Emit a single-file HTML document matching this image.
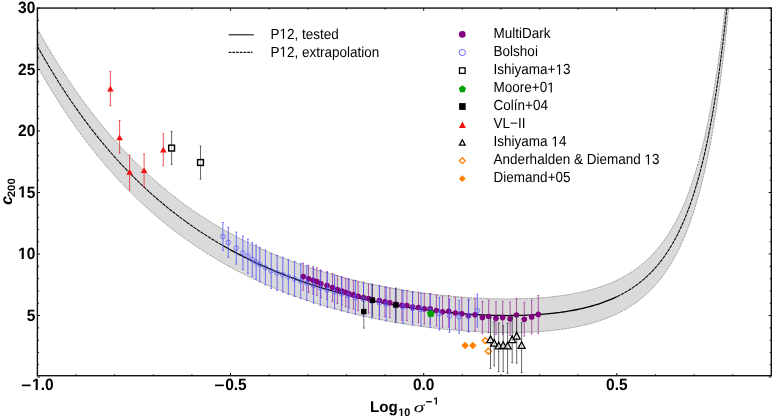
<!DOCTYPE html>
<html><head><meta charset="utf-8"><title>c200 vs Log10 sigma^-1</title>
<style>
html,body{margin:0;padding:0;background:#fff;}
body{width:772px;height:417px;overflow:hidden;font-family:"Liberation Sans",sans-serif;}
svg{display:block;will-change:transform;text-rendering:geometricPrecision;}
</style></head><body>
<svg width="772" height="417" viewBox="0 0 772 417">
<defs><clipPath id="cp"><rect x="37.4" y="8.1" width="734.9" height="367.6"/></clipPath></defs>
<rect width="772" height="417" fill="#fff"/>
<g clip-path="url(#cp)">
<path d="M37.40 28.96 L39.23 32.25 L41.07 35.50 L42.90 38.71 L44.74 41.89 L46.57 45.03 L48.41 48.14 L50.24 51.22 L52.08 54.26 L53.91 57.26 L55.75 60.24 L57.58 63.18 L59.42 66.09 L61.25 68.96 L63.09 71.81 L64.92 74.62 L66.76 77.40 L68.59 80.15 L70.43 82.87 L72.26 85.56 L74.10 88.22 L75.93 90.86 L77.77 93.46 L79.60 96.03 L81.44 98.58 L83.27 101.09 L85.11 103.58 L86.94 106.04 L88.78 108.48 L90.61 110.89 L92.45 113.27 L94.28 115.62 L96.12 117.95 L97.95 120.25 L99.79 122.53 L101.62 124.78 L103.46 127.01 L105.29 129.21 L107.13 131.39 L108.96 133.54 L110.80 135.68 L112.63 137.78 L114.47 139.87 L116.30 141.93 L118.14 143.96 L119.97 145.98 L121.81 147.97 L123.64 149.94 L125.48 151.89 L127.31 153.82 L129.15 155.73 L130.98 157.61 L132.82 159.48 L134.65 161.32 L136.49 163.15 L138.32 164.95 L140.16 166.73 L141.99 168.50 L143.83 170.24 L145.66 171.97 L147.50 173.67 L149.33 175.36 L151.17 177.03 L153.00 178.68 L154.84 180.31 L156.67 181.92 L158.51 183.52 L160.34 185.10 L162.17 186.66 L164.01 188.20 L165.84 189.73 L167.68 191.24 L169.51 192.73 L171.35 194.21 L173.18 195.67 L175.02 197.11 L176.85 198.54 L178.69 199.95 L180.52 201.35 L182.36 202.73 L184.19 204.10 L186.03 205.45 L187.86 206.78 L189.70 208.10 L191.53 209.41 L193.37 210.68 L195.20 211.94 L197.04 213.18 L198.87 214.41 L200.71 215.62 L202.54 216.82 L204.38 218.01 L206.21 219.18 L208.05 220.34 L209.88 221.49 L211.72 222.62 L213.55 223.74 L215.39 224.85 L217.22 225.94 L219.06 227.03 L220.89 228.10 L222.73 229.16 L224.56 230.20 L226.40 231.24 L228.23 232.26 L230.07 233.27 L231.90 234.27 L233.74 235.26 L235.57 236.24 L237.41 237.20 L239.24 238.16 L241.08 239.10 L242.91 240.03 L244.75 240.95 L246.58 241.87 L248.42 242.77 L250.25 243.66 L252.09 244.54 L253.92 245.41 L255.76 246.27 L257.59 247.12 L259.43 247.96 L261.26 248.79 L263.10 249.61 L264.93 250.43 L266.77 251.23 L268.60 252.02 L270.44 252.81 L272.27 253.58 L274.11 254.35 L275.94 255.10 L277.78 255.85 L279.61 256.59 L281.45 257.32 L283.28 258.04 L285.11 258.76 L286.95 259.46 L288.78 260.16 L290.62 260.85 L292.45 261.53 L294.29 262.20 L296.12 262.86 L297.96 263.52 L299.79 264.17 L301.63 264.81 L303.46 265.44 L305.30 266.07 L307.13 266.69 L308.97 267.30 L310.80 267.90 L312.64 268.50 L314.47 269.09 L316.31 269.67 L318.14 270.24 L319.98 270.81 L321.81 271.37 L323.65 271.92 L325.48 272.47 L327.32 273.01 L329.15 273.54 L330.99 274.07 L332.82 274.59 L334.66 275.10 L336.49 275.61 L338.33 276.11 L340.16 276.60 L342.00 277.09 L343.83 277.57 L345.67 278.04 L347.50 278.51 L349.34 278.97 L351.17 279.43 L353.01 279.88 L354.84 280.33 L356.68 280.76 L358.51 281.20 L360.35 281.62 L362.18 282.05 L364.02 282.46 L365.85 282.87 L367.69 283.27 L369.52 283.67 L371.36 284.07 L373.19 284.45 L375.03 284.84 L376.86 285.21 L378.70 285.58 L380.53 285.95 L382.37 286.31 L384.20 286.66 L386.04 287.01 L387.87 287.36 L389.71 287.70 L391.54 288.03 L393.38 288.36 L395.21 288.68 L397.05 289.00 L398.88 289.31 L400.72 289.62 L402.55 289.92 L404.38 290.22 L406.22 290.51 L408.05 290.80 L409.89 291.09 L411.72 291.36 L413.56 291.64 L415.39 291.90 L417.23 292.17 L419.06 292.43 L420.90 292.68 L422.73 292.93 L424.57 293.17 L426.40 293.41 L428.24 293.64 L430.07 293.87 L431.91 294.10 L433.74 294.32 L435.58 294.53 L437.41 294.74 L439.25 294.95 L441.08 295.15 L442.92 295.34 L444.75 295.53 L446.59 295.72 L448.42 295.90 L450.26 296.07 L452.09 296.24 L453.93 296.41 L455.76 296.57 L457.60 296.72 L459.43 296.87 L461.27 297.02 L463.10 297.16 L464.94 297.30 L466.77 297.43 L468.61 297.55 L470.44 297.67 L472.28 297.79 L474.11 297.90 L475.95 298.00 L477.78 298.10 L479.62 298.19 L481.45 298.28 L483.29 298.37 L485.12 298.44 L486.96 298.51 L488.79 298.58 L490.63 298.64 L492.46 298.70 L494.30 298.75 L496.13 298.79 L497.97 298.83 L499.80 298.86 L501.64 298.88 L503.47 298.90 L505.31 298.92 L507.14 298.92 L508.98 298.92 L510.81 298.92 L512.65 298.90 L514.48 298.88 L516.32 298.86 L518.15 298.82 L519.99 298.78 L521.82 298.74 L523.66 298.68 L525.49 298.62 L527.32 298.55 L529.16 298.47 L530.99 298.38 L532.83 298.29 L534.66 298.19 L536.50 298.08 L538.33 297.96 L540.17 297.83 L542.00 297.69 L543.84 297.54 L545.67 297.39 L547.51 297.22 L549.34 297.05 L551.18 296.86 L553.01 296.67 L554.85 296.46 L556.68 296.24 L558.52 296.01 L560.35 295.77 L562.19 295.52 L564.02 295.25 L565.86 294.98 L567.69 294.68 L569.53 294.38 L571.36 294.06 L573.20 293.73 L575.03 293.38 L576.87 293.02 L578.70 292.65 L580.54 292.25 L582.37 291.84 L584.21 291.42 L586.04 290.97 L587.88 290.51 L589.71 290.03 L591.55 289.53 L593.38 289.01 L595.22 288.46 L597.05 287.90 L598.89 287.31 L600.72 286.71 L602.56 286.07 L604.39 285.41 L606.23 284.73 L608.06 284.01 L609.90 283.27 L611.73 282.50 L613.57 281.70 L615.40 280.87 L617.24 280.01 L619.07 279.11 L620.91 278.17 L622.74 277.20 L624.58 276.19 L626.41 275.14 L628.25 274.04 L630.08 272.90 L631.92 271.72 L633.75 270.48 L635.59 269.20 L637.42 267.86 L639.26 266.47 L641.09 265.01 L642.93 263.50 L644.76 261.92 L646.60 260.27 L648.43 258.56 L650.26 256.77 L652.10 254.90 L653.93 252.94 L655.77 250.91 L657.60 248.77 L659.44 246.55 L661.27 244.22 L663.11 241.78 L664.94 239.23 L666.78 236.56 L668.61 233.77 L670.45 230.84 L672.28 227.76 L674.12 224.54 L675.95 221.16 L677.79 217.61 L679.62 213.87 L681.46 209.95 L683.29 205.83 L685.13 201.48 L686.96 196.91 L688.80 192.09 L690.63 187.01 L692.47 181.65 L694.30 175.99 L696.14 170.01 L697.97 163.69 L699.81 157.01 L701.64 149.93 L703.48 142.43 L705.31 134.48 L707.15 126.04 L708.98 117.07 L710.82 107.55 L712.65 97.41 L714.49 86.62 L716.32 75.12 L718.16 62.85 L719.99 49.76 L721.83 35.76 L723.66 20.79 L725.50 4.76 L727.33 -12.43 L729.17 -30.86 L731.00 -50.67 L732.84 -71.97 L734.67 -94.89 L736.51 -119.60 L738.34 -146.27 L740.18 -175.07 L742.01 -206.23 L743.85 -239.97 L745.68 -276.56 L747.52 -316.28 L749.35 -359.48 L751.19 -406.51 L753.02 -457.79 L754.86 -513.78 L756.69 -574.99 L758.53 -642.04 L760.36 -715.57 L762.20 -796.34 L764.03 -885.21 L765.87 -983.15 L767.70 -1091.27 L769.54 -1210.82 L771.37 -1343.26 L771.37 -1309.56 L769.54 -1177.12 L767.70 -1057.56 L765.87 -949.45 L764.03 -851.51 L762.20 -762.64 L760.36 -681.86 L758.53 -608.33 L756.69 -541.29 L754.86 -480.07 L753.02 -424.09 L751.19 -372.81 L749.35 -325.78 L747.52 -282.58 L745.68 -242.85 L743.85 -206.26 L742.01 -172.52 L740.18 -141.37 L738.34 -112.56 L736.51 -85.90 L734.67 -61.19 L732.84 -38.26 L731.00 -16.97 L729.17 2.84 L727.33 21.28 L725.50 38.46 L723.66 54.49 L721.83 69.46 L719.99 83.46 L718.16 96.56 L716.32 108.82 L714.49 120.32 L712.65 131.11 L710.82 141.25 L708.98 150.78 L707.15 159.74 L705.31 168.18 L703.48 176.13 L701.64 183.63 L699.81 190.71 L697.97 197.40 L696.14 203.72 L694.30 209.69 L692.47 215.35 L690.63 220.71 L688.80 225.79 L686.96 230.61 L685.13 235.18 L683.29 239.53 L681.46 243.65 L679.62 247.58 L677.79 251.31 L675.95 254.86 L674.12 258.24 L672.28 261.47 L670.45 264.54 L668.61 267.47 L666.78 270.27 L664.94 272.93 L663.11 275.48 L661.27 277.92 L659.44 280.25 L657.60 282.48 L655.77 284.61 L653.93 286.65 L652.10 288.60 L650.26 290.47 L648.43 292.26 L646.60 293.98 L644.76 295.62 L642.93 297.20 L641.09 298.71 L639.26 300.17 L637.42 301.56 L635.59 302.90 L633.75 304.19 L631.92 305.42 L630.08 306.61 L628.25 307.74 L626.41 308.84 L624.58 309.89 L622.74 310.90 L620.91 311.88 L619.07 312.81 L617.24 313.71 L615.40 314.58 L613.57 315.41 L611.73 316.21 L609.90 316.98 L608.06 317.72 L606.23 318.43 L604.39 319.11 L602.56 319.77 L600.72 320.41 L598.89 321.02 L597.05 321.60 L595.22 322.17 L593.38 322.71 L591.55 323.23 L589.71 323.73 L587.88 324.21 L586.04 324.67 L584.21 325.12 L582.37 325.55 L580.54 325.96 L578.70 326.35 L576.87 326.73 L575.03 327.09 L573.20 327.43 L571.36 327.76 L569.53 328.08 L567.69 328.39 L565.86 328.68 L564.02 328.95 L562.19 329.22 L560.35 329.47 L558.52 329.71 L556.68 329.94 L554.85 330.16 L553.01 330.37 L551.18 330.56 L549.34 330.75 L547.51 330.93 L545.67 331.09 L543.84 331.25 L542.00 331.39 L540.17 331.53 L538.33 331.66 L536.50 331.78 L534.66 331.89 L532.83 331.99 L530.99 332.09 L529.16 332.17 L527.32 332.25 L525.49 332.32 L523.66 332.38 L521.82 332.44 L519.99 332.49 L518.15 332.53 L516.32 332.56 L514.48 332.59 L512.65 332.61 L510.81 332.62 L508.98 332.63 L507.14 332.62 L505.31 332.62 L503.47 332.61 L501.64 332.59 L499.80 332.56 L497.97 332.53 L496.13 332.49 L494.30 332.45 L492.46 332.40 L490.63 332.34 L488.79 332.28 L486.96 332.22 L485.12 332.14 L483.29 332.07 L481.45 331.98 L479.62 331.90 L477.78 331.80 L475.95 331.70 L474.11 331.60 L472.28 331.49 L470.44 331.37 L468.61 331.25 L466.77 331.13 L464.94 331.00 L463.10 330.86 L461.27 330.72 L459.43 330.58 L457.60 330.43 L455.76 330.27 L453.93 330.11 L452.09 329.94 L450.26 329.77 L448.42 329.60 L446.59 329.42 L444.75 329.23 L442.92 329.04 L441.08 328.85 L439.25 328.65 L437.41 328.44 L435.58 328.23 L433.74 328.02 L431.91 327.80 L430.07 327.58 L428.24 327.35 L426.40 327.11 L424.57 326.87 L422.73 326.63 L420.90 326.38 L419.06 326.13 L417.23 325.87 L415.39 325.61 L413.56 325.34 L411.72 325.07 L409.89 324.79 L408.05 324.50 L406.22 324.22 L404.38 323.92 L402.55 323.63 L400.72 323.32 L398.88 323.01 L397.05 322.70 L395.21 322.38 L393.38 322.06 L391.54 321.73 L389.71 321.40 L387.87 321.06 L386.04 320.71 L384.20 320.36 L382.37 320.01 L380.53 319.65 L378.70 319.28 L376.86 318.91 L375.03 318.54 L373.19 318.16 L371.36 317.77 L369.52 317.38 L367.69 316.98 L365.85 316.57 L364.02 316.16 L362.18 315.75 L360.35 315.33 L358.51 314.90 L356.68 314.47 L354.84 314.03 L353.01 313.58 L351.17 313.13 L349.34 312.68 L347.50 312.21 L345.67 311.75 L343.83 311.27 L342.00 310.79 L340.16 310.30 L338.33 309.81 L336.49 309.31 L334.66 308.80 L332.82 308.29 L330.99 307.77 L329.15 307.24 L327.32 306.71 L325.48 306.17 L323.65 305.62 L321.81 305.07 L319.98 304.51 L318.14 303.94 L316.31 303.37 L314.47 302.79 L312.64 302.20 L310.80 301.60 L308.97 301.00 L307.13 300.39 L305.30 299.77 L303.46 299.15 L301.63 298.51 L299.79 297.87 L297.96 297.22 L296.12 296.57 L294.29 295.90 L292.45 295.23 L290.62 294.55 L288.78 293.86 L286.95 293.16 L285.11 292.46 L283.28 291.75 L281.45 291.02 L279.61 290.29 L277.78 289.55 L275.94 288.81 L274.11 288.05 L272.27 287.28 L270.44 286.51 L268.60 285.72 L266.77 284.93 L264.93 284.13 L263.10 283.32 L261.26 282.50 L259.43 281.66 L257.59 280.82 L255.76 279.97 L253.92 279.11 L252.09 278.24 L250.25 277.36 L248.42 276.47 L246.58 275.57 L244.75 274.66 L242.91 273.73 L241.08 272.80 L239.24 271.86 L237.41 270.90 L235.57 269.94 L233.74 268.96 L231.90 267.97 L230.07 266.97 L228.23 265.96 L226.40 264.94 L224.56 263.90 L222.73 262.86 L220.89 261.80 L219.06 260.73 L217.22 259.65 L215.39 258.55 L213.55 257.44 L211.72 256.32 L209.88 255.19 L208.05 254.04 L206.21 252.88 L204.38 251.71 L202.54 250.52 L200.71 249.32 L198.87 248.11 L197.04 246.88 L195.20 245.64 L193.37 244.39 L191.53 243.12 L189.70 241.86 L187.86 240.58 L186.03 239.29 L184.19 237.98 L182.36 236.66 L180.52 235.32 L178.69 233.97 L176.85 232.60 L175.02 231.22 L173.18 229.82 L171.35 228.40 L169.51 226.97 L167.68 225.52 L165.84 224.06 L164.01 222.57 L162.17 221.07 L160.34 219.56 L158.51 218.02 L156.67 216.47 L154.84 214.90 L153.00 213.31 L151.17 211.71 L149.33 210.08 L147.50 208.44 L145.66 206.78 L143.83 205.10 L141.99 203.40 L140.16 201.68 L138.32 199.94 L136.49 198.18 L134.65 196.40 L132.82 194.60 L130.98 192.78 L129.15 190.94 L127.31 189.07 L125.48 187.19 L123.64 185.28 L121.81 183.36 L119.97 181.41 L118.14 179.44 L116.30 177.44 L114.47 175.43 L112.63 173.39 L110.80 171.32 L108.96 169.24 L107.13 167.13 L105.29 164.99 L103.46 162.83 L101.62 160.65 L99.79 158.44 L97.95 156.21 L96.12 153.95 L94.28 151.67 L92.45 149.35 L90.61 147.02 L88.78 144.65 L86.94 142.26 L85.11 139.85 L83.27 137.40 L81.44 134.93 L79.60 132.43 L77.77 129.90 L75.93 127.34 L74.10 124.75 L72.26 122.14 L70.43 119.49 L68.59 116.81 L66.76 114.11 L64.92 111.37 L63.09 108.60 L61.25 105.80 L59.42 102.97 L57.58 100.10 L55.75 97.21 L53.91 94.28 L52.08 91.31 L50.24 88.32 L48.41 85.29 L46.57 82.22 L44.74 79.12 L42.90 75.99 L41.07 72.82 L39.23 69.61 L37.40 66.37 Z" fill="#dadada" stroke="none"/>
<path d="M37.40 28.96 L39.23 32.25 L41.07 35.50 L42.90 38.71 L44.74 41.89 L46.57 45.03 L48.41 48.14 L50.24 51.22 L52.08 54.26 L53.91 57.26 L55.75 60.24 L57.58 63.18 L59.42 66.09 L61.25 68.96 L63.09 71.81 L64.92 74.62 L66.76 77.40 L68.59 80.15 L70.43 82.87 L72.26 85.56 L74.10 88.22 L75.93 90.86 L77.77 93.46 L79.60 96.03 L81.44 98.58 L83.27 101.09 L85.11 103.58 L86.94 106.04 L88.78 108.48 L90.61 110.89 L92.45 113.27 L94.28 115.62 L96.12 117.95 L97.95 120.25 L99.79 122.53 L101.62 124.78 L103.46 127.01 L105.29 129.21 L107.13 131.39 L108.96 133.54 L110.80 135.68 L112.63 137.78 L114.47 139.87 L116.30 141.93 L118.14 143.96 L119.97 145.98 L121.81 147.97 L123.64 149.94 L125.48 151.89 L127.31 153.82 L129.15 155.73 L130.98 157.61 L132.82 159.48 L134.65 161.32 L136.49 163.15 L138.32 164.95 L140.16 166.73 L141.99 168.50 L143.83 170.24 L145.66 171.97 L147.50 173.67 L149.33 175.36 L151.17 177.03 L153.00 178.68 L154.84 180.31 L156.67 181.92 L158.51 183.52 L160.34 185.10 L162.17 186.66 L164.01 188.20 L165.84 189.73 L167.68 191.24 L169.51 192.73 L171.35 194.21 L173.18 195.67 L175.02 197.11 L176.85 198.54 L178.69 199.95 L180.52 201.35 L182.36 202.73 L184.19 204.10 L186.03 205.45 L187.86 206.78 L189.70 208.10 L191.53 209.41 L193.37 210.68 L195.20 211.94 L197.04 213.18 L198.87 214.41 L200.71 215.62 L202.54 216.82 L204.38 218.01 L206.21 219.18 L208.05 220.34 L209.88 221.49 L211.72 222.62 L213.55 223.74 L215.39 224.85 L217.22 225.94 L219.06 227.03 L220.89 228.10 L222.73 229.16 L224.56 230.20 L226.40 231.24 L228.23 232.26 L230.07 233.27 L231.90 234.27 L233.74 235.26 L235.57 236.24 L237.41 237.20 L239.24 238.16 L241.08 239.10 L242.91 240.03 L244.75 240.95 L246.58 241.87 L248.42 242.77 L250.25 243.66 L252.09 244.54 L253.92 245.41 L255.76 246.27 L257.59 247.12 L259.43 247.96 L261.26 248.79 L263.10 249.61 L264.93 250.43 L266.77 251.23 L268.60 252.02 L270.44 252.81 L272.27 253.58 L274.11 254.35 L275.94 255.10 L277.78 255.85 L279.61 256.59 L281.45 257.32 L283.28 258.04 L285.11 258.76 L286.95 259.46 L288.78 260.16 L290.62 260.85 L292.45 261.53 L294.29 262.20 L296.12 262.86 L297.96 263.52 L299.79 264.17 L301.63 264.81 L303.46 265.44 L305.30 266.07 L307.13 266.69 L308.97 267.30 L310.80 267.90 L312.64 268.50 L314.47 269.09 L316.31 269.67 L318.14 270.24 L319.98 270.81 L321.81 271.37 L323.65 271.92 L325.48 272.47 L327.32 273.01 L329.15 273.54 L330.99 274.07 L332.82 274.59 L334.66 275.10 L336.49 275.61 L338.33 276.11 L340.16 276.60 L342.00 277.09 L343.83 277.57 L345.67 278.04 L347.50 278.51 L349.34 278.97 L351.17 279.43 L353.01 279.88 L354.84 280.33 L356.68 280.76 L358.51 281.20 L360.35 281.62 L362.18 282.05 L364.02 282.46 L365.85 282.87 L367.69 283.27 L369.52 283.67 L371.36 284.07 L373.19 284.45 L375.03 284.84 L376.86 285.21 L378.70 285.58 L380.53 285.95 L382.37 286.31 L384.20 286.66 L386.04 287.01 L387.87 287.36 L389.71 287.70 L391.54 288.03 L393.38 288.36 L395.21 288.68 L397.05 289.00 L398.88 289.31 L400.72 289.62 L402.55 289.92 L404.38 290.22 L406.22 290.51 L408.05 290.80 L409.89 291.09 L411.72 291.36 L413.56 291.64 L415.39 291.90 L417.23 292.17 L419.06 292.43 L420.90 292.68 L422.73 292.93 L424.57 293.17 L426.40 293.41 L428.24 293.64 L430.07 293.87 L431.91 294.10 L433.74 294.32 L435.58 294.53 L437.41 294.74 L439.25 294.95 L441.08 295.15 L442.92 295.34 L444.75 295.53 L446.59 295.72 L448.42 295.90 L450.26 296.07 L452.09 296.24 L453.93 296.41 L455.76 296.57 L457.60 296.72 L459.43 296.87 L461.27 297.02 L463.10 297.16 L464.94 297.30 L466.77 297.43 L468.61 297.55 L470.44 297.67 L472.28 297.79 L474.11 297.90 L475.95 298.00 L477.78 298.10 L479.62 298.19 L481.45 298.28 L483.29 298.37 L485.12 298.44 L486.96 298.51 L488.79 298.58 L490.63 298.64 L492.46 298.70 L494.30 298.75 L496.13 298.79 L497.97 298.83 L499.80 298.86 L501.64 298.88 L503.47 298.90 L505.31 298.92 L507.14 298.92 L508.98 298.92 L510.81 298.92 L512.65 298.90 L514.48 298.88 L516.32 298.86 L518.15 298.82 L519.99 298.78 L521.82 298.74 L523.66 298.68 L525.49 298.62 L527.32 298.55 L529.16 298.47 L530.99 298.38 L532.83 298.29 L534.66 298.19 L536.50 298.08 L538.33 297.96 L540.17 297.83 L542.00 297.69 L543.84 297.54 L545.67 297.39 L547.51 297.22 L549.34 297.05 L551.18 296.86 L553.01 296.67 L554.85 296.46 L556.68 296.24 L558.52 296.01 L560.35 295.77 L562.19 295.52 L564.02 295.25 L565.86 294.98 L567.69 294.68 L569.53 294.38 L571.36 294.06 L573.20 293.73 L575.03 293.38 L576.87 293.02 L578.70 292.65 L580.54 292.25 L582.37 291.84 L584.21 291.42 L586.04 290.97 L587.88 290.51 L589.71 290.03 L591.55 289.53 L593.38 289.01 L595.22 288.46 L597.05 287.90 L598.89 287.31 L600.72 286.71 L602.56 286.07 L604.39 285.41 L606.23 284.73 L608.06 284.01 L609.90 283.27 L611.73 282.50 L613.57 281.70 L615.40 280.87 L617.24 280.01 L619.07 279.11 L620.91 278.17 L622.74 277.20 L624.58 276.19 L626.41 275.14 L628.25 274.04 L630.08 272.90 L631.92 271.72 L633.75 270.48 L635.59 269.20 L637.42 267.86 L639.26 266.47 L641.09 265.01 L642.93 263.50 L644.76 261.92 L646.60 260.27 L648.43 258.56 L650.26 256.77 L652.10 254.90 L653.93 252.94 L655.77 250.91 L657.60 248.77 L659.44 246.55 L661.27 244.22 L663.11 241.78 L664.94 239.23 L666.78 236.56 L668.61 233.77 L670.45 230.84 L672.28 227.76 L674.12 224.54 L675.95 221.16 L677.79 217.61 L679.62 213.87 L681.46 209.95 L683.29 205.83 L685.13 201.48 L686.96 196.91 L688.80 192.09 L690.63 187.01 L692.47 181.65 L694.30 175.99 L696.14 170.01 L697.97 163.69 L699.81 157.01 L701.64 149.93 L703.48 142.43 L705.31 134.48 L707.15 126.04 L708.98 117.07 L710.82 107.55 L712.65 97.41 L714.49 86.62 L716.32 75.12 L718.16 62.85 L719.99 49.76 L721.83 35.76 L723.66 20.79 L725.50 4.76 L727.33 -12.43 L729.17 -30.86 L731.00 -50.67 L732.84 -71.97 L734.67 -94.89 L736.51 -119.60 L738.34 -146.27 L740.18 -175.07 L742.01 -206.23 L743.85 -239.97 L745.68 -276.56 L747.52 -316.28 L749.35 -359.48 L751.19 -406.51 L753.02 -457.79 L754.86 -513.78 L756.69 -574.99 L758.53 -642.04 L760.36 -715.57 L762.20 -796.34 L764.03 -885.21 L765.87 -983.15 L767.70 -1091.27 L769.54 -1210.82 L771.37 -1343.26" fill="none" stroke="#777" stroke-width="0.6" stroke-dasharray="2.6 0.7"/>
<path d="M37.40 66.37 L39.23 69.61 L41.07 72.82 L42.90 75.99 L44.74 79.12 L46.57 82.22 L48.41 85.29 L50.24 88.32 L52.08 91.31 L53.91 94.28 L55.75 97.21 L57.58 100.10 L59.42 102.97 L61.25 105.80 L63.09 108.60 L64.92 111.37 L66.76 114.11 L68.59 116.81 L70.43 119.49 L72.26 122.14 L74.10 124.75 L75.93 127.34 L77.77 129.90 L79.60 132.43 L81.44 134.93 L83.27 137.40 L85.11 139.85 L86.94 142.26 L88.78 144.65 L90.61 147.02 L92.45 149.35 L94.28 151.67 L96.12 153.95 L97.95 156.21 L99.79 158.44 L101.62 160.65 L103.46 162.83 L105.29 164.99 L107.13 167.13 L108.96 169.24 L110.80 171.32 L112.63 173.39 L114.47 175.43 L116.30 177.44 L118.14 179.44 L119.97 181.41 L121.81 183.36 L123.64 185.28 L125.48 187.19 L127.31 189.07 L129.15 190.94 L130.98 192.78 L132.82 194.60 L134.65 196.40 L136.49 198.18 L138.32 199.94 L140.16 201.68 L141.99 203.40 L143.83 205.10 L145.66 206.78 L147.50 208.44 L149.33 210.08 L151.17 211.71 L153.00 213.31 L154.84 214.90 L156.67 216.47 L158.51 218.02 L160.34 219.56 L162.17 221.07 L164.01 222.57 L165.84 224.06 L167.68 225.52 L169.51 226.97 L171.35 228.40 L173.18 229.82 L175.02 231.22 L176.85 232.60 L178.69 233.97 L180.52 235.32 L182.36 236.66 L184.19 237.98 L186.03 239.29 L187.86 240.58 L189.70 241.86 L191.53 243.12 L193.37 244.39 L195.20 245.64 L197.04 246.88 L198.87 248.11 L200.71 249.32 L202.54 250.52 L204.38 251.71 L206.21 252.88 L208.05 254.04 L209.88 255.19 L211.72 256.32 L213.55 257.44 L215.39 258.55 L217.22 259.65 L219.06 260.73 L220.89 261.80 L222.73 262.86 L224.56 263.90 L226.40 264.94 L228.23 265.96 L230.07 266.97 L231.90 267.97 L233.74 268.96 L235.57 269.94 L237.41 270.90 L239.24 271.86 L241.08 272.80 L242.91 273.73 L244.75 274.66 L246.58 275.57 L248.42 276.47 L250.25 277.36 L252.09 278.24 L253.92 279.11 L255.76 279.97 L257.59 280.82 L259.43 281.66 L261.26 282.50 L263.10 283.32 L264.93 284.13 L266.77 284.93 L268.60 285.72 L270.44 286.51 L272.27 287.28 L274.11 288.05 L275.94 288.81 L277.78 289.55 L279.61 290.29 L281.45 291.02 L283.28 291.75 L285.11 292.46 L286.95 293.16 L288.78 293.86 L290.62 294.55 L292.45 295.23 L294.29 295.90 L296.12 296.57 L297.96 297.22 L299.79 297.87 L301.63 298.51 L303.46 299.15 L305.30 299.77 L307.13 300.39 L308.97 301.00 L310.80 301.60 L312.64 302.20 L314.47 302.79 L316.31 303.37 L318.14 303.94 L319.98 304.51 L321.81 305.07 L323.65 305.62 L325.48 306.17 L327.32 306.71 L329.15 307.24 L330.99 307.77 L332.82 308.29 L334.66 308.80 L336.49 309.31 L338.33 309.81 L340.16 310.30 L342.00 310.79 L343.83 311.27 L345.67 311.75 L347.50 312.21 L349.34 312.68 L351.17 313.13 L353.01 313.58 L354.84 314.03 L356.68 314.47 L358.51 314.90 L360.35 315.33 L362.18 315.75 L364.02 316.16 L365.85 316.57 L367.69 316.98 L369.52 317.38 L371.36 317.77 L373.19 318.16 L375.03 318.54 L376.86 318.91 L378.70 319.28 L380.53 319.65 L382.37 320.01 L384.20 320.36 L386.04 320.71 L387.87 321.06 L389.71 321.40 L391.54 321.73 L393.38 322.06 L395.21 322.38 L397.05 322.70 L398.88 323.01 L400.72 323.32 L402.55 323.63 L404.38 323.92 L406.22 324.22 L408.05 324.50 L409.89 324.79 L411.72 325.07 L413.56 325.34 L415.39 325.61 L417.23 325.87 L419.06 326.13 L420.90 326.38 L422.73 326.63 L424.57 326.87 L426.40 327.11 L428.24 327.35 L430.07 327.58 L431.91 327.80 L433.74 328.02 L435.58 328.23 L437.41 328.44 L439.25 328.65 L441.08 328.85 L442.92 329.04 L444.75 329.23 L446.59 329.42 L448.42 329.60 L450.26 329.77 L452.09 329.94 L453.93 330.11 L455.76 330.27 L457.60 330.43 L459.43 330.58 L461.27 330.72 L463.10 330.86 L464.94 331.00 L466.77 331.13 L468.61 331.25 L470.44 331.37 L472.28 331.49 L474.11 331.60 L475.95 331.70 L477.78 331.80 L479.62 331.90 L481.45 331.98 L483.29 332.07 L485.12 332.14 L486.96 332.22 L488.79 332.28 L490.63 332.34 L492.46 332.40 L494.30 332.45 L496.13 332.49 L497.97 332.53 L499.80 332.56 L501.64 332.59 L503.47 332.61 L505.31 332.62 L507.14 332.62 L508.98 332.63 L510.81 332.62 L512.65 332.61 L514.48 332.59 L516.32 332.56 L518.15 332.53 L519.99 332.49 L521.82 332.44 L523.66 332.38 L525.49 332.32 L527.32 332.25 L529.16 332.17 L530.99 332.09 L532.83 331.99 L534.66 331.89 L536.50 331.78 L538.33 331.66 L540.17 331.53 L542.00 331.39 L543.84 331.25 L545.67 331.09 L547.51 330.93 L549.34 330.75 L551.18 330.56 L553.01 330.37 L554.85 330.16 L556.68 329.94 L558.52 329.71 L560.35 329.47 L562.19 329.22 L564.02 328.95 L565.86 328.68 L567.69 328.39 L569.53 328.08 L571.36 327.76 L573.20 327.43 L575.03 327.09 L576.87 326.73 L578.70 326.35 L580.54 325.96 L582.37 325.55 L584.21 325.12 L586.04 324.67 L587.88 324.21 L589.71 323.73 L591.55 323.23 L593.38 322.71 L595.22 322.17 L597.05 321.60 L598.89 321.02 L600.72 320.41 L602.56 319.77 L604.39 319.11 L606.23 318.43 L608.06 317.72 L609.90 316.98 L611.73 316.21 L613.57 315.41 L615.40 314.58 L617.24 313.71 L619.07 312.81 L620.91 311.88 L622.74 310.90 L624.58 309.89 L626.41 308.84 L628.25 307.74 L630.08 306.61 L631.92 305.42 L633.75 304.19 L635.59 302.90 L637.42 301.56 L639.26 300.17 L641.09 298.71 L642.93 297.20 L644.76 295.62 L646.60 293.98 L648.43 292.26 L650.26 290.47 L652.10 288.60 L653.93 286.65 L655.77 284.61 L657.60 282.48 L659.44 280.25 L661.27 277.92 L663.11 275.48 L664.94 272.93 L666.78 270.27 L668.61 267.47 L670.45 264.54 L672.28 261.47 L674.12 258.24 L675.95 254.86 L677.79 251.31 L679.62 247.58 L681.46 243.65 L683.29 239.53 L685.13 235.18 L686.96 230.61 L688.80 225.79 L690.63 220.71 L692.47 215.35 L694.30 209.69 L696.14 203.72 L697.97 197.40 L699.81 190.71 L701.64 183.63 L703.48 176.13 L705.31 168.18 L707.15 159.74 L708.98 150.78 L710.82 141.25 L712.65 131.11 L714.49 120.32 L716.32 108.82 L718.16 96.56 L719.99 83.46 L721.83 69.46 L723.66 54.49 L725.50 38.46 L727.33 21.28 L729.17 2.84 L731.00 -16.97 L732.84 -38.26 L734.67 -61.19 L736.51 -85.90 L738.34 -112.56 L740.18 -141.37 L742.01 -172.52 L743.85 -206.26 L745.68 -242.85 L747.52 -282.58 L749.35 -325.78 L751.19 -372.81 L753.02 -424.09 L754.86 -480.07 L756.69 -541.29 L758.53 -608.33 L760.36 -681.86 L762.20 -762.64 L764.03 -851.51 L765.87 -949.45 L767.70 -1057.56 L769.54 -1177.12 L771.37 -1309.56" fill="none" stroke="#777" stroke-width="0.6" stroke-dasharray="2.6 0.7"/>
<path d="M37.40 46.34 L38.33 48.00 L39.25 49.66 L40.18 51.30 L41.11 52.93 L42.04 54.55 L42.96 56.17 L43.89 57.77 L44.82 59.37 L45.74 60.96 L46.67 62.53 L47.60 64.10 L48.53 65.66 L49.45 67.22 L50.38 68.76 L51.31 70.29 L52.23 71.82 L53.16 73.34 L54.09 74.84 L55.02 76.34 L55.94 77.83 L56.87 79.32 L57.80 80.79 L58.72 82.26 L59.65 83.72 L60.58 85.17 L61.51 86.61 L62.43 88.04 L63.36 89.47 L64.29 90.88 L65.21 92.29 L66.14 93.69 L67.07 95.09 L67.99 96.47 L68.92 97.85 L69.85 99.22 L70.78 100.58 L71.70 101.94 L72.63 103.28 L73.56 104.62 L74.48 105.96 L75.41 107.28 L76.34 108.60 L77.27 109.91 L78.19 111.21 L79.12 112.50 L80.05 113.79 L80.97 115.07 L81.90 116.34 L82.83 117.61 L83.76 118.87 L84.68 120.12 L85.61 121.36 L86.54 122.60 L87.46 123.83 L88.39 125.05 L89.32 126.27 L90.25 127.48 L91.17 128.68 L92.10 129.88 L93.03 131.07 L93.95 132.25 L94.88 133.42 L95.81 134.59 L96.74 135.76 L97.66 136.91 L98.59 138.06 L99.52 139.20 L100.44 140.34 L101.37 141.47 L102.30 142.59 L103.23 143.71 L104.15 144.82 L105.08 145.93 L106.01 147.02 L106.93 148.12 L107.86 149.20 L108.79 150.28 L109.72 151.36 L110.64 152.42 L111.57 153.49 L112.50 154.54 L113.42 155.59 L114.35 156.63 L115.28 157.67 L116.21 158.70 L117.13 159.73 L118.06 160.75 L118.99 161.77 L119.91 162.77 L120.84 163.78 L121.77 164.77 L122.70 165.77 L123.62 166.75 L124.55 167.73 L125.48 168.71 L126.40 169.68 L127.33 170.64 L128.26 171.60 L129.18 172.55 L130.11 173.50 L131.04 174.44 L131.97 175.38 L132.89 176.31 L133.82 177.24 L134.75 178.16 L135.67 179.08 L136.60 179.99 L137.53 180.89 L138.46 181.79 L139.38 182.69 L140.31 183.58 L141.24 184.46 L142.16 185.34 L143.09 186.22 L144.02 187.09 L144.95 187.95 L145.87 188.81 L146.80 189.67 L147.73 190.52 L148.65 191.37 L149.58 192.21 L150.51 193.04 L151.44 193.88 L152.36 194.70 L153.29 195.52 L154.22 196.34 L155.14 197.16 L156.07 197.96 L157.00 198.77 L157.93 199.57 L158.85 200.36 L159.78 201.15 L160.71 201.94 L161.63 202.72 L162.56 203.49 L163.49 204.27 L164.42 205.03 L165.34 205.80 L166.27 206.56 L167.20 207.31 L168.12 208.06 L169.05 208.81 L169.98 209.55 L170.91 210.29 L171.83 211.02 L172.76 211.75 L173.69 212.48 L174.61 213.20 L175.54 213.91 L176.47 214.63 L177.40 215.34 L178.32 216.04 L179.25 216.74 L180.18 217.44 L181.10 218.13 L182.03 218.82 L182.96 219.51 L183.88 220.19 L184.81 220.86 L185.74 221.54 L186.67 222.21 L187.59 222.87 L188.52 223.53 L189.45 224.19 L190.37 224.85 L191.30 225.50 L192.23 226.14 L193.16 226.79 L194.08 227.43 L195.01 228.06 L195.94 228.69 L196.86 229.32 L197.79 229.95 L198.72 230.57 L199.65 231.19 L200.57 231.80 L201.50 232.41 L202.43 233.02 L203.35 233.62 L204.28 234.22 L205.21 234.82 L206.14 235.42 L207.06 236.01 L207.99 236.59 L208.92 237.18 L209.84 237.76 L210.77 238.33 L211.70 238.91 L212.63 239.48 L213.55 240.04 L214.48 240.61 L215.41 241.17 L216.33 241.72 L217.26 242.28 L218.19 242.83 L219.12 243.38 L220.04 243.92 L220.97 244.46 L221.90 245.00 L222.82 245.54" fill="none" stroke="#000" stroke-width="1.05" stroke-dasharray="3.6 0.7"/>
<path d="M222.82 245.54 L224.14 246.29 L225.45 247.04 L226.76 247.78 L228.08 248.51 L229.39 249.24 L230.70 249.96 L232.02 250.68 L233.33 251.39 L234.64 252.09 L235.96 252.79 L237.27 253.49 L238.59 254.17 L239.90 254.86 L241.21 255.53 L242.53 256.20 L243.84 256.87 L245.15 257.53 L246.47 258.18 L247.78 258.83 L249.09 259.48 L250.41 260.12 L251.72 260.75 L253.03 261.38 L254.35 262.00 L255.66 262.62 L256.97 263.23 L258.29 263.84 L259.60 264.44 L260.91 265.04 L262.23 265.63 L263.54 266.22 L264.85 266.80 L266.17 267.38 L267.48 267.95 L268.79 268.52 L270.11 269.09 L271.42 269.64 L272.73 270.20 L274.05 270.75 L275.36 271.29 L276.67 271.83 L277.99 272.37 L279.30 272.90 L280.61 273.43 L281.93 273.95 L283.24 274.47 L284.55 274.98 L285.87 275.49 L287.18 276.00 L288.50 276.50 L289.81 277.00 L291.12 277.49 L292.44 277.98 L293.75 278.46 L295.06 278.94 L296.38 279.42 L297.69 279.89 L299.00 280.35 L300.32 280.82 L301.63 281.28 L302.94 281.73 L304.26 282.19 L305.57 282.63 L306.88 283.08 L308.20 283.52 L309.51 283.95 L310.82 284.39 L312.14 284.82 L313.45 285.24 L314.76 285.66 L316.08 286.08 L317.39 286.49 L318.70 286.90 L320.02 287.31 L321.33 287.71 L322.64 288.11 L323.96 288.51 L325.27 288.90 L326.58 289.29 L327.90 289.68 L329.21 290.06 L330.52 290.44 L331.84 290.81 L333.15 291.19 L334.46 291.55 L335.78 291.92 L337.09 292.28 L338.40 292.64 L339.72 293.00 L341.03 293.35 L342.35 293.70 L343.66 294.04 L344.97 294.38 L346.29 294.72 L347.60 295.06 L348.91 295.39 L350.23 295.72 L351.54 296.05 L352.85 296.37 L354.17 296.69 L355.48 297.01 L356.79 297.32 L358.11 297.64 L359.42 297.94 L360.73 298.25 L362.05 298.55 L363.36 298.85 L364.67 299.15 L365.99 299.44 L367.30 299.73 L368.61 300.02 L369.93 300.30 L371.24 300.59 L372.55 300.87 L373.87 301.14 L375.18 301.42 L376.49 301.69 L377.81 301.95 L379.12 302.22 L380.43 302.48 L381.75 302.74 L383.06 303.00 L384.37 303.25 L385.69 303.50 L387.00 303.75 L388.31 304.00 L389.63 304.24 L390.94 304.48 L392.26 304.72 L393.57 304.95 L394.88 305.19 L396.20 305.42 L397.51 305.64 L398.82 305.87 L400.14 306.09 L401.45 306.31 L402.76 306.53 L404.08 306.74 L405.39 306.95 L406.70 307.16 L408.02 307.37 L409.33 307.57 L410.64 307.77 L411.96 307.97 L413.27 308.17 L414.58 308.36 L415.90 308.55 L417.21 308.74 L418.52 308.93 L419.84 309.11 L421.15 309.29 L422.46 309.47 L423.78 309.65 L425.09 309.82 L426.40 309.99 L427.72 310.16 L429.03 310.33 L430.34 310.49 L431.66 310.65 L432.97 310.81 L434.28 310.97 L435.60 311.12 L436.91 311.27 L438.22 311.42 L439.54 311.57 L440.85 311.71 L442.17 311.85 L443.48 311.99 L444.79 312.13 L446.11 312.26 L447.42 312.39 L448.73 312.52 L450.05 312.64 L451.36 312.77 L452.67 312.89 L453.99 313.01 L455.30 313.12 L456.61 313.24 L457.93 313.35 L459.24 313.45 L460.55 313.56 L461.87 313.66 L463.18 313.76 L464.49 313.86 L465.81 313.96 L467.12 314.05 L468.43 314.14 L469.75 314.23 L471.06 314.31 L472.37 314.39 L473.69 314.47 L475.00 314.55 L476.31 314.62 L477.63 314.69 L478.94 314.76 L480.25 314.83 L481.57 314.89 L482.88 314.95 L484.19 315.01 L485.51 315.06 L486.82 315.11 L488.13 315.16 L489.45 315.21 L490.76 315.25 L492.08 315.29 L493.39 315.33 L494.70 315.36 L496.02 315.39 L497.33 315.42 L498.64 315.44 L499.96 315.47 L501.27 315.48 L502.58 315.50 L503.90 315.51 L505.21 315.52 L506.52 315.53 L507.84 315.53 L509.15 315.53 L510.46 315.52 L511.78 315.52 L513.09 315.50 L514.40 315.49 L515.72 315.47 L517.03 315.45 L518.34 315.42 L519.66 315.40 L520.97 315.36 L522.28 315.33 L523.60 315.29 L524.91 315.24 L526.22 315.19 L527.54 315.14 L528.85 315.09 L530.16 315.03 L531.48 314.96 L532.79 314.89 L534.10 314.82 L535.42 314.74 L536.73 314.66 L538.04 314.58 L539.36 314.49 L540.67 314.39 L541.99 314.29 L543.30 314.19 L544.61 314.08 L545.93 313.97 L547.24 313.85 L548.55 313.72 L549.87 313.59 L551.18 313.46 L552.49 313.32 L553.81 313.17 L555.12 313.02 L556.43 312.87 L557.75 312.70 L559.06 312.53 L560.37 312.36 L561.69 312.18 L563.00 311.99 L564.31 311.80 L565.63 311.60 L566.94 311.39 L568.25 311.18 L569.57 310.96 L570.88 310.73 L572.19 310.50 L573.51 310.26 L574.82 310.01 L576.13 309.75 L577.45 309.49 L578.76 309.21 L580.07 308.93 L581.39 308.64 L582.70 308.34 L584.01 308.04 L585.33 307.72 L586.64 307.40 L587.95 307.06 L589.27 306.72 L590.58 306.36 L591.90 306.00 L593.21 305.62 L594.52 305.24 L595.84 304.84 L597.15 304.43 L598.46 304.01 L599.78 303.58 L601.09 303.14 L602.40 302.68 L603.72 302.21 L605.03 301.73 L606.34 301.23 L607.66 300.72 L608.97 300.20 L610.28 299.66 L611.60 299.10 L612.91 298.53 L614.22 297.95 L615.54 297.34 L616.85 296.72" fill="none" stroke="#000" stroke-width="1.3"/>
<path d="M616.85 296.72 L617.24 296.54 L617.62 296.35 L618.01 296.16 L618.40 295.97 L618.78 295.78 L619.17 295.59 L619.55 295.39 L619.94 295.19 L620.33 295.00 L620.71 294.80 L621.10 294.59 L621.49 294.39 L621.87 294.19 L622.26 293.98 L622.64 293.77 L623.03 293.56 L623.42 293.35 L623.80 293.14 L624.19 292.92 L624.58 292.70 L624.96 292.48 L625.35 292.26 L625.73 292.04 L626.12 291.82 L626.51 291.59 L626.89 291.36 L627.28 291.13 L627.67 290.90 L628.05 290.67 L628.44 290.43 L628.83 290.19 L629.21 289.95 L629.60 289.71 L629.98 289.47 L630.37 289.22 L630.76 288.97 L631.14 288.72 L631.53 288.47 L631.92 288.21 L632.30 287.96 L632.69 287.70 L633.07 287.44 L633.46 287.17 L633.85 286.91 L634.23 286.64 L634.62 286.37 L635.01 286.10 L635.39 285.82 L635.78 285.54 L636.16 285.27 L636.55 284.98 L636.94 284.70 L637.32 284.41 L637.71 284.12 L638.10 283.83 L638.48 283.54 L638.87 283.24 L639.26 282.94 L639.64 282.64 L640.03 282.33 L640.41 282.03 L640.80 281.72 L641.19 281.40 L641.57 281.09 L641.96 280.77 L642.35 280.45 L642.73 280.12 L643.12 279.80 L643.50 279.47 L643.89 279.14 L644.28 278.80 L644.66 278.46 L645.05 278.12 L645.44 277.78 L645.82 277.43 L646.21 277.08 L646.60 276.72 L646.98 276.37 L647.37 276.01 L647.75 275.64 L648.14 275.28 L648.53 274.91 L648.91 274.53 L649.30 274.16 L649.69 273.78 L650.07 273.40 L650.46 273.01 L650.84 272.62 L651.23 272.22 L651.62 271.83 L652.00 271.43 L652.39 271.02 L652.78 270.61 L653.16 270.20 L653.55 269.78 L653.93 269.36 L654.32 268.94 L654.71 268.51 L655.09 268.08 L655.48 267.65 L655.87 267.21 L656.25 266.76 L656.64 266.32 L657.03 265.86 L657.41 265.41 L657.80 264.95 L658.18 264.48 L658.57 264.01 L658.96 263.54 L659.34 263.06 L659.73 262.58 L660.12 262.09 L660.50 261.60 L660.89 261.11 L661.27 260.60 L661.66 260.10 L662.05 259.59 L662.43 259.07 L662.82 258.55 L663.21 258.03 L663.59 257.50 L663.98 256.96 L664.36 256.42 L664.75 255.87 L665.14 255.32 L665.52 254.77 L665.91 254.20 L666.30 253.64 L666.68 253.06 L667.07 252.48 L667.46 251.90 L667.84 251.31 L668.23 250.71 L668.61 250.11 L669.00 249.50 L669.39 248.89 L669.77 248.27 L670.16 247.64 L670.55 247.01 L670.93 246.37 L671.32 245.73 L671.70 245.07 L672.09 244.41 L672.48 243.75 L672.86 243.08 L673.25 242.40 L673.64 241.71 L674.02 241.02 L674.41 240.32 L674.79 239.62 L675.18 238.90 L675.57 238.18 L675.95 237.45 L676.34 236.71 L676.73 235.97 L677.11 235.22 L677.50 234.46 L677.89 233.69 L678.27 232.92 L678.66 232.13 L679.04 231.34 L679.43 230.54 L679.82 229.73 L680.20 228.92 L680.59 228.09 L680.98 227.25 L681.36 226.41 L681.75 225.56 L682.13 224.70 L682.52 223.83 L682.91 222.95 L683.29 222.06 L683.68 221.16 L684.07 220.25 L684.45 219.33 L684.84 218.40 L685.23 217.46 L685.61 216.51 L686.00 215.55 L686.38 214.58 L686.77 213.60 L687.16 212.61 L687.54 211.61 L687.93 210.59 L688.32 209.57 L688.70 208.53 L689.09 207.48 L689.47 206.42 L689.86 205.35 L690.25 204.26 L690.63 203.17 L691.02 202.06 L691.41 200.94 L691.79 199.80 L692.18 198.65 L692.56 197.49 L692.95 196.32 L693.34 195.13 L693.72 193.93 L694.11 192.72 L694.50 191.49 L694.88 190.24 L695.27 188.99 L695.66 187.71 L696.04 186.43 L696.43 185.12 L696.81 183.81 L697.20 182.47 L697.59 181.12 L697.97 179.76 L698.36 178.37 L698.75 176.98 L699.13 175.56 L699.52 174.13 L699.90 172.68 L700.29 171.21 L700.68 169.73 L701.06 168.22 L701.45 166.70 L701.84 165.16 L702.22 163.61 L702.61 162.03 L702.99 160.43 L703.38 158.81 L703.77 157.18 L704.15 155.52 L704.54 153.84 L704.93 152.14 L705.31 150.42 L705.70 148.68 L706.09 146.91 L706.47 145.13 L706.86 143.32 L707.24 141.49 L707.63 139.63 L708.02 137.75 L708.40 135.85 L708.79 133.92 L709.18 131.97 L709.56 129.99 L709.95 127.99 L710.33 125.96 L710.72 123.90 L711.11 121.82 L711.49 119.71 L711.88 117.57 L712.27 115.40 L712.65 113.21 L713.04 110.98 L713.42 108.73 L713.81 106.44 L714.20 104.13 L714.58 101.78 L714.97 99.40 L715.36 97.00 L715.74 94.55 L716.13 92.08 L716.52 89.57 L716.90 87.02 L717.29 84.44 L717.67 81.83 L718.06 79.18 L718.45 76.49 L718.83 73.77 L719.22 71.00 L719.61 68.20 L719.99 65.36 L720.38 62.48 L720.76 59.56 L721.15 56.60 L721.54 53.59 L721.92 50.54 L722.31 47.45 L722.70 44.32 L723.08 41.13 L723.47 37.91 L723.86 34.63 L724.24 31.31 L724.63 27.94 L725.01 24.53 L725.40 21.06 L725.79 17.54 L726.17 13.96 L726.56 10.34 L726.95 6.66 L727.33 2.93 L727.72 -0.86 L728.10 -4.71 L728.49 -8.61 L728.88 -12.57 L729.26 -16.59 L729.65 -20.68 L730.04 -24.82 L730.42 -29.03 L730.81 -33.31 L731.19 -37.65 L731.58 -42.05 L731.97 -46.53 L732.35 -51.07 L732.74 -55.69 L733.13 -60.37 L733.51 -65.13 L733.90 -69.97 L734.29 -74.88 L734.67 -79.87 L735.06 -84.94 L735.44 -90.09 L735.83 -95.32 L736.22 -100.64 L736.60 -106.04 L736.99 -111.53 L737.38 -117.10 L737.76 -122.77 L738.15 -128.53 L738.53 -134.39 L738.92 -140.34 L739.31 -146.39 L739.69 -152.54 L740.08 -158.79 L740.47 -165.14 L740.85 -171.61 L741.24 -178.18 L741.62 -184.86 L742.01 -191.65 L742.40 -198.56 L742.78 -205.58 L743.17 -212.73 L743.56 -219.99 L743.94 -227.39 L744.33 -234.90 L744.72 -242.55 L745.10 -250.34 L745.49 -258.25 L745.87 -266.31 L746.26 -274.50 L746.65 -282.84 L747.03 -291.33 L747.42 -299.97 L747.81 -308.76 L748.19 -317.71 L748.58 -326.81 L748.96 -336.08 L749.35 -345.52 L749.74 -355.13 L750.12 -364.91 L750.51 -374.87 L750.90 -385.01 L751.28 -395.34 L751.67 -405.86 L752.06 -416.57 L752.44 -427.48 L752.83 -438.59 L753.21 -449.91 L753.60 -461.44 L753.99 -473.19 L754.37 -485.16 L754.76 -497.35 L755.15 -509.78 L755.53 -522.44 L755.92 -535.34 L756.30 -548.49 L756.69 -561.90 L757.08 -575.56 L757.46 -589.49 L757.85 -603.69 L758.24 -618.17 L758.62 -632.93 L759.01 -647.98 L759.39 -663.32 L759.78 -678.97 L760.17 -694.94 L760.55 -711.22 L760.94 -727.82 L761.33 -744.76 L761.71 -762.04 L762.10 -779.67 L762.49 -797.66 L762.87 -816.01 L763.26 -834.74 L763.64 -853.85 L764.03 -873.36 L764.42 -893.27 L764.80 -913.59 L765.19 -934.34 L765.58 -955.52 L765.96 -977.14 L766.35 -999.22 L766.73 -1021.76 L767.12 -1044.79 L767.51 -1068.30 L767.89 -1092.32 L768.28 -1116.85 L768.67 -1141.90 L769.05 -1167.50 L769.44 -1193.66 L769.82 -1220.38 L770.21 -1247.68 L770.60 -1275.59 L770.98 -1304.11 L771.37 -1333.25" fill="none" stroke="#000" stroke-width="1.05" stroke-dasharray="3.6 0.7"/>
<path d="M303.20 263.10 V290.10 M302.30 263.10 h1.80 M302.30 290.10 h1.80" stroke="#9a2a9a" stroke-width="0.75" fill="none"/>
<path d="M308.50 265.22 V292.38 M307.60 265.22 h1.80 M307.60 292.38 h1.80" stroke="#9a2a9a" stroke-width="0.75" fill="none"/>
<path d="M313.10 266.65 V293.95 M312.20 266.65 h1.80 M312.20 293.95 h1.80" stroke="#9a2a9a" stroke-width="0.75" fill="none"/>
<path d="M316.90 267.89 V295.31 M316.00 267.89 h1.80 M316.00 295.31 h1.80" stroke="#9a2a9a" stroke-width="0.75" fill="none"/>
<path d="M320.80 270.03 V297.57 M319.90 270.03 h1.80 M319.90 297.57 h1.80" stroke="#9a2a9a" stroke-width="0.75" fill="none"/>
<path d="M327.00 271.64 V299.36 M326.10 271.64 h1.80 M326.10 299.36 h1.80" stroke="#9a2a9a" stroke-width="0.75" fill="none"/>
<path d="M332.50 273.56 V301.44 M331.60 273.56 h1.80 M331.60 301.44 h1.80" stroke="#9a2a9a" stroke-width="0.75" fill="none"/>
<path d="M337.40 275.49 V303.51 M336.50 275.49 h1.80 M336.50 303.51 h1.80" stroke="#9a2a9a" stroke-width="0.75" fill="none"/>
<path d="M341.90 276.92 V305.08 M341.00 276.92 h1.80 M341.00 305.08 h1.80" stroke="#9a2a9a" stroke-width="0.75" fill="none"/>
<path d="M345.70 278.36 V306.64 M344.80 278.36 h1.80 M344.80 306.64 h1.80" stroke="#9a2a9a" stroke-width="0.75" fill="none"/>
<path d="M349.00 279.61 V307.99 M348.10 279.61 h1.80 M348.10 307.99 h1.80" stroke="#9a2a9a" stroke-width="0.75" fill="none"/>
<path d="M353.40 280.65 V309.15 M352.50 280.65 h1.80 M352.50 309.15 h1.80" stroke="#9a2a9a" stroke-width="0.75" fill="none"/>
<path d="M358.10 281.98 V310.62 M357.20 281.98 h1.80 M357.20 310.62 h1.80" stroke="#9a2a9a" stroke-width="0.75" fill="none"/>
<path d="M363.50 283.10 V311.90 M362.60 283.10 h1.80 M362.60 311.90 h1.80" stroke="#9a2a9a" stroke-width="0.75" fill="none"/>
<path d="M368.50 284.12 V313.08 M367.60 284.12 h1.80 M367.60 313.08 h1.80" stroke="#9a2a9a" stroke-width="0.75" fill="none"/>
<path d="M372.40 284.97 V314.03 M371.50 284.97 h1.80 M371.50 314.03 h1.80" stroke="#9a2a9a" stroke-width="0.75" fill="none"/>
<path d="M379.40 285.86 V315.14 M378.50 285.86 h1.80 M378.50 315.14 h1.80" stroke="#9a2a9a" stroke-width="0.75" fill="none"/>
<path d="M385.00 286.98 V316.42 M384.10 286.98 h1.80 M384.10 316.42 h1.80" stroke="#9a2a9a" stroke-width="0.75" fill="none"/>
<path d="M389.90 288.01 V317.59 M389.00 288.01 h1.80 M389.00 317.59 h1.80" stroke="#9a2a9a" stroke-width="0.75" fill="none"/>
<path d="M395.90 289.12 V318.88 M395.00 289.12 h1.80 M395.00 318.88 h1.80" stroke="#9a2a9a" stroke-width="0.75" fill="none"/>
<path d="M401.90 290.23 V320.17 M401.00 290.23 h1.80 M401.00 320.17 h1.80" stroke="#9a2a9a" stroke-width="0.75" fill="none"/>
<path d="M406.90 290.45 V320.55 M406.00 290.45 h1.80 M406.00 320.55 h1.80" stroke="#9a2a9a" stroke-width="0.75" fill="none"/>
<path d="M412.60 291.97 V322.23 M411.70 291.97 h1.80 M411.70 322.23 h1.80" stroke="#9a2a9a" stroke-width="0.75" fill="none"/>
<path d="M418.50 292.28 V322.72 M417.60 292.28 h1.80 M417.60 322.72 h1.80" stroke="#9a2a9a" stroke-width="0.75" fill="none"/>
<path d="M424.30 293.49 V324.11 M423.40 293.49 h1.80 M423.40 324.11 h1.80" stroke="#9a2a9a" stroke-width="0.75" fill="none"/>
<path d="M430.20 293.41 V324.19 M429.30 293.41 h1.80 M429.30 324.19 h1.80" stroke="#9a2a9a" stroke-width="0.75" fill="none"/>
<path d="M436.40 295.01 V325.99 M435.50 295.01 h1.80 M435.50 325.99 h1.80" stroke="#9a2a9a" stroke-width="0.75" fill="none"/>
<path d="M442.50 296.12 V327.28 M441.60 296.12 h1.80 M441.60 327.28 h1.80" stroke="#9a2a9a" stroke-width="0.75" fill="none"/>
<path d="M448.70 295.53 V326.87 M447.80 295.53 h1.80 M447.80 326.87 h1.80" stroke="#9a2a9a" stroke-width="0.75" fill="none"/>
<path d="M455.40 297.23 V328.77 M454.50 297.23 h1.80 M454.50 328.77 h1.80" stroke="#9a2a9a" stroke-width="0.75" fill="none"/>
<path d="M461.80 297.93 V329.67 M460.90 297.93 h1.80 M460.90 329.67 h1.80" stroke="#9a2a9a" stroke-width="0.75" fill="none"/>
<path d="M468.40 299.74 V331.66 M467.50 299.74 h1.80 M467.50 331.66 h1.80" stroke="#9a2a9a" stroke-width="0.75" fill="none"/>
<path d="M475.10 298.74 V330.86 M474.20 298.74 h1.80 M474.20 330.86 h1.80" stroke="#9a2a9a" stroke-width="0.75" fill="none"/>
<path d="M482.40 301.43 V333.77 M481.50 301.43 h1.80 M481.50 333.77 h1.80" stroke="#9a2a9a" stroke-width="0.75" fill="none"/>
<path d="M488.70 300.23 V332.77 M487.80 300.23 h1.80 M487.80 332.77 h1.80" stroke="#9a2a9a" stroke-width="0.75" fill="none"/>
<path d="M496.00 301.83 V334.57 M495.10 301.83 h1.80 M495.10 334.57 h1.80" stroke="#9a2a9a" stroke-width="0.75" fill="none"/>
<path d="M502.70 301.13 V334.07 M501.80 301.13 h1.80 M501.80 334.07 h1.80" stroke="#9a2a9a" stroke-width="0.75" fill="none"/>
<path d="M510.10 302.12 V335.28 M509.20 302.12 h1.80 M509.20 335.28 h1.80" stroke="#9a2a9a" stroke-width="0.75" fill="none"/>
<path d="M516.50 298.32 V331.68 M515.60 298.32 h1.80 M515.60 331.68 h1.80" stroke="#9a2a9a" stroke-width="0.75" fill="none"/>
<path d="M524.30 302.50 V336.10 M523.40 302.50 h1.80 M523.40 336.10 h1.80" stroke="#9a2a9a" stroke-width="0.75" fill="none"/>
<path d="M531.70 299.99 V333.81 M530.80 299.99 h1.80 M530.80 333.81 h1.80" stroke="#9a2a9a" stroke-width="0.75" fill="none"/>
<path d="M538.30 295.50 V333.30 M537.40 295.50 h1.80 M537.40 333.30 h1.80" stroke="#9a2a9a" stroke-width="0.75" fill="none"/>
<circle cx="303.20" cy="276.60" r="2.8" fill="#800080"/>
<circle cx="308.50" cy="278.80" r="2.8" fill="#800080"/>
<circle cx="313.10" cy="280.30" r="2.8" fill="#800080"/>
<circle cx="316.90" cy="281.60" r="2.8" fill="#800080"/>
<circle cx="320.80" cy="283.80" r="2.8" fill="#800080"/>
<circle cx="327.00" cy="285.50" r="2.8" fill="#800080"/>
<circle cx="332.50" cy="287.50" r="2.8" fill="#800080"/>
<circle cx="337.40" cy="289.50" r="2.8" fill="#800080"/>
<circle cx="341.90" cy="291.00" r="2.8" fill="#800080"/>
<circle cx="345.70" cy="292.50" r="2.8" fill="#800080"/>
<circle cx="349.00" cy="293.80" r="2.8" fill="#800080"/>
<circle cx="353.40" cy="294.90" r="2.8" fill="#800080"/>
<circle cx="358.10" cy="296.30" r="2.8" fill="#800080"/>
<circle cx="363.50" cy="297.50" r="2.8" fill="#800080"/>
<circle cx="368.50" cy="298.60" r="2.8" fill="#800080"/>
<circle cx="372.40" cy="299.50" r="2.8" fill="#800080"/>
<circle cx="379.40" cy="300.50" r="2.8" fill="#800080"/>
<circle cx="385.00" cy="301.70" r="2.8" fill="#800080"/>
<circle cx="389.90" cy="302.80" r="2.8" fill="#800080"/>
<circle cx="395.90" cy="304.00" r="2.8" fill="#800080"/>
<circle cx="401.90" cy="305.20" r="2.8" fill="#800080"/>
<circle cx="406.90" cy="305.50" r="2.8" fill="#800080"/>
<circle cx="412.60" cy="307.10" r="2.8" fill="#800080"/>
<circle cx="418.50" cy="307.50" r="2.8" fill="#800080"/>
<circle cx="424.30" cy="308.80" r="2.8" fill="#800080"/>
<circle cx="430.20" cy="308.80" r="2.8" fill="#800080"/>
<circle cx="436.40" cy="310.50" r="2.8" fill="#800080"/>
<circle cx="442.50" cy="311.70" r="2.8" fill="#800080"/>
<circle cx="448.70" cy="311.20" r="2.8" fill="#800080"/>
<circle cx="455.40" cy="313.00" r="2.8" fill="#800080"/>
<circle cx="461.80" cy="313.80" r="2.8" fill="#800080"/>
<circle cx="468.40" cy="315.70" r="2.8" fill="#800080"/>
<circle cx="475.10" cy="314.80" r="2.8" fill="#800080"/>
<circle cx="482.40" cy="317.60" r="2.8" fill="#800080"/>
<circle cx="488.70" cy="316.50" r="2.8" fill="#800080"/>
<circle cx="496.00" cy="318.20" r="2.8" fill="#800080"/>
<circle cx="502.70" cy="317.60" r="2.8" fill="#800080"/>
<circle cx="510.10" cy="318.70" r="2.8" fill="#800080"/>
<circle cx="516.50" cy="315.00" r="2.8" fill="#800080"/>
<circle cx="524.30" cy="319.30" r="2.8" fill="#800080"/>
<circle cx="531.70" cy="316.90" r="2.8" fill="#800080"/>
<circle cx="538.30" cy="314.40" r="2.8" fill="#800080"/>
<path d="M222.90 222.50 V250.50 M222.00 222.50 h1.80 M222.00 250.50 h1.80" stroke="#4848ff" stroke-width="0.75" fill="none"/>
<path d="M228.30 227.40 V257.40 M227.40 227.40 h1.80 M227.40 257.40 h1.80" stroke="#4848ff" stroke-width="0.75" fill="none"/>
<path d="M236.30 232.10 V264.10 M235.40 232.10 h1.80 M235.40 264.10 h1.80" stroke="#4848ff" stroke-width="0.75" fill="none"/>
<path d="M242.90 236.10 V269.50 M242.00 236.10 h1.80 M242.00 269.50 h1.80" stroke="#4848ff" stroke-width="0.75" fill="none"/>
<path d="M247.90 239.10 V273.10 M247.00 239.10 h1.80 M247.00 273.10 h1.80" stroke="#4848ff" stroke-width="0.75" fill="none"/>
<path d="M252.30 242.50 V276.50 M251.40 242.50 h1.80 M251.40 276.50 h1.80" stroke="#4848ff" stroke-width="0.75" fill="none"/>
<path d="M256.10 244.80 V279.20 M255.20 244.80 h1.80 M255.20 279.20 h1.80" stroke="#4848ff" stroke-width="0.75" fill="none"/>
<path d="M259.80 247.20 V281.80 M258.90 247.20 h1.80 M258.90 281.80 h1.80" stroke="#4848ff" stroke-width="0.75" fill="none"/>
<path d="M265.40 250.00 V285.00 M264.50 250.00 h1.80 M264.50 285.00 h1.80" stroke="#4848ff" stroke-width="0.75" fill="none"/>
<path d="M271.20 253.40 V288.40 M270.30 253.40 h1.80 M270.30 288.40 h1.80" stroke="#4848ff" stroke-width="0.75" fill="none"/>
<path d="M277.10 255.40 V290.40 M276.20 255.40 h1.80 M276.20 290.40 h1.80" stroke="#4848ff" stroke-width="0.75" fill="none"/>
<path d="M282.80 257.20 V292.20 M281.90 257.20 h1.80 M281.90 292.20 h1.80" stroke="#4848ff" stroke-width="0.75" fill="none"/>
<path d="M288.40 259.30 V294.30 M287.50 259.30 h1.80 M287.50 294.30 h1.80" stroke="#4848ff" stroke-width="0.75" fill="none"/>
<path d="M294.60 261.50 V296.50 M293.70 261.50 h1.80 M293.70 296.50 h1.80" stroke="#4848ff" stroke-width="0.75" fill="none"/>
<path d="M300.80 263.50 V298.50 M299.90 263.50 h1.80 M299.90 298.50 h1.80" stroke="#4848ff" stroke-width="0.75" fill="none"/>
<path d="M306.80 265.50 V300.50 M305.90 265.50 h1.80 M305.90 300.50 h1.80" stroke="#4848ff" stroke-width="0.75" fill="none"/>
<path d="M313.60 268.19 V303.19 M312.70 268.19 h1.80 M312.70 303.19 h1.80" stroke="#4848ff" stroke-width="0.75" fill="none"/>
<path d="M320.30 270.30 V305.30 M319.40 270.30 h1.80 M319.40 305.30 h1.80" stroke="#4848ff" stroke-width="0.75" fill="none"/>
<path d="M327.30 272.40 V307.40 M326.40 272.40 h1.80 M326.40 307.40 h1.80" stroke="#4848ff" stroke-width="0.75" fill="none"/>
<path d="M334.60 274.99 V308.99 M333.70 274.99 h1.80 M333.70 308.99 h1.80" stroke="#4848ff" stroke-width="0.75" fill="none"/>
<path d="M341.50 276.87 V310.87 M340.60 276.87 h1.80 M340.60 310.87 h1.80" stroke="#4848ff" stroke-width="0.75" fill="none"/>
<path d="M348.20 278.61 V312.61 M347.30 278.61 h1.80 M347.30 312.61 h1.80" stroke="#4848ff" stroke-width="0.75" fill="none"/>
<path d="M355.40 280.39 V314.39 M354.50 280.39 h1.80 M354.50 314.39 h1.80" stroke="#4848ff" stroke-width="0.75" fill="none"/>
<path d="M363.50 282.28 V316.28 M362.60 282.28 h1.80 M362.60 316.28 h1.80" stroke="#4848ff" stroke-width="0.75" fill="none"/>
<path d="M371.90 284.13 V318.13 M371.00 284.13 h1.80 M371.00 318.13 h1.80" stroke="#4848ff" stroke-width="0.75" fill="none"/>
<path d="M379.40 285.68 V319.68 M378.50 285.68 h1.80 M378.50 319.68 h1.80" stroke="#4848ff" stroke-width="0.75" fill="none"/>
<path d="M386.20 287.00 V321.00 M385.30 287.00 h1.80 M385.30 321.00 h1.80" stroke="#4848ff" stroke-width="0.75" fill="none"/>
<path d="M395.40 288.68 V322.68 M394.50 288.68 h1.80 M394.50 322.68 h1.80" stroke="#4848ff" stroke-width="0.75" fill="none"/>
<path d="M403.00 290.57 V323.37 M402.10 290.57 h1.80 M402.10 323.37 h1.80" stroke="#4848ff" stroke-width="0.75" fill="none"/>
<path d="M412.60 292.07 V324.87 M411.70 292.07 h1.80 M411.70 324.87 h1.80" stroke="#4848ff" stroke-width="0.75" fill="none"/>
<path d="M421.00 293.10 V325.90 M420.10 293.10 h1.80 M420.10 325.90 h1.80" stroke="#4848ff" stroke-width="0.75" fill="none"/>
<path d="M430.20 294.47 V327.27 M429.30 294.47 h1.80 M429.30 327.27 h1.80" stroke="#4848ff" stroke-width="0.75" fill="none"/>
<path d="M439.40 297.30 V330.10 M438.50 297.30 h1.80 M438.50 330.10 h1.80" stroke="#4848ff" stroke-width="0.75" fill="none"/>
<path d="M449.50 299.50 V332.30 M448.60 299.50 h1.80 M448.60 332.30 h1.80" stroke="#4848ff" stroke-width="0.75" fill="none"/>
<path d="M459.10 300.30 V333.10 M458.20 300.30 h1.80 M458.20 333.10 h1.80" stroke="#4848ff" stroke-width="0.75" fill="none"/>
<path d="M468.70 299.00 V331.80 M467.80 299.00 h1.80 M467.80 331.80 h1.80" stroke="#4848ff" stroke-width="0.75" fill="none"/>
<path d="M477.30 294.20 V327.00 M476.40 294.20 h1.80 M476.40 327.00 h1.80" stroke="#4848ff" stroke-width="0.75" fill="none"/>
<circle cx="222.90" cy="236.50" r="2.3" fill="none" stroke="#5a5aff" stroke-width="0.75"/>
<circle cx="228.30" cy="242.40" r="2.3" fill="none" stroke="#5a5aff" stroke-width="0.75"/>
<circle cx="236.30" cy="248.10" r="2.3" fill="none" stroke="#5a5aff" stroke-width="0.75"/>
<circle cx="242.90" cy="252.80" r="2.3" fill="none" stroke="#5a5aff" stroke-width="0.75"/>
<circle cx="247.90" cy="256.10" r="2.3" fill="none" stroke="#5a5aff" stroke-width="0.75"/>
<circle cx="252.30" cy="259.50" r="2.3" fill="none" stroke="#5a5aff" stroke-width="0.75"/>
<circle cx="256.10" cy="262.00" r="2.3" fill="none" stroke="#5a5aff" stroke-width="0.75"/>
<circle cx="259.80" cy="264.50" r="2.3" fill="none" stroke="#5a5aff" stroke-width="0.75"/>
<circle cx="265.40" cy="267.50" r="2.3" fill="none" stroke="#5a5aff" stroke-width="0.75"/>
<circle cx="271.20" cy="270.90" r="2.3" fill="none" stroke="#5a5aff" stroke-width="0.75"/>
<circle cx="277.10" cy="272.90" r="2.3" fill="none" stroke="#5a5aff" stroke-width="0.75"/>
<circle cx="282.80" cy="274.70" r="2.3" fill="none" stroke="#5a5aff" stroke-width="0.75"/>
<circle cx="288.40" cy="276.80" r="2.3" fill="none" stroke="#5a5aff" stroke-width="0.75"/>
<circle cx="294.60" cy="279.00" r="2.3" fill="none" stroke="#5a5aff" stroke-width="0.75"/>
<circle cx="300.80" cy="281.00" r="2.3" fill="none" stroke="#5a5aff" stroke-width="0.75"/>
<circle cx="306.80" cy="283.00" r="2.3" fill="none" stroke="#5a5aff" stroke-width="0.75"/>
<circle cx="313.60" cy="285.69" r="2.3" fill="none" stroke="#5a5aff" stroke-width="0.75"/>
<circle cx="320.30" cy="287.80" r="2.3" fill="none" stroke="#5a5aff" stroke-width="0.75"/>
<circle cx="327.30" cy="289.90" r="2.3" fill="none" stroke="#5a5aff" stroke-width="0.75"/>
<circle cx="334.60" cy="291.99" r="2.3" fill="none" stroke="#5a5aff" stroke-width="0.75"/>
<circle cx="341.50" cy="293.87" r="2.3" fill="none" stroke="#5a5aff" stroke-width="0.75"/>
<circle cx="348.20" cy="295.61" r="2.3" fill="none" stroke="#5a5aff" stroke-width="0.75"/>
<circle cx="355.40" cy="297.39" r="2.3" fill="none" stroke="#5a5aff" stroke-width="0.75"/>
<circle cx="363.50" cy="299.28" r="2.3" fill="none" stroke="#5a5aff" stroke-width="0.75"/>
<circle cx="371.90" cy="301.13" r="2.3" fill="none" stroke="#5a5aff" stroke-width="0.75"/>
<circle cx="379.40" cy="302.68" r="2.3" fill="none" stroke="#5a5aff" stroke-width="0.75"/>
<circle cx="386.20" cy="304.00" r="2.3" fill="none" stroke="#5a5aff" stroke-width="0.75"/>
<circle cx="395.40" cy="305.68" r="2.3" fill="none" stroke="#5a5aff" stroke-width="0.75"/>
<circle cx="403.00" cy="306.97" r="2.3" fill="none" stroke="#5a5aff" stroke-width="0.75"/>
<circle cx="412.60" cy="308.47" r="2.3" fill="none" stroke="#5a5aff" stroke-width="0.75"/>
<circle cx="421.00" cy="309.50" r="2.3" fill="none" stroke="#5a5aff" stroke-width="0.75"/>
<circle cx="430.20" cy="310.87" r="2.3" fill="none" stroke="#5a5aff" stroke-width="0.75"/>
<circle cx="439.40" cy="313.70" r="2.3" fill="none" stroke="#5a5aff" stroke-width="0.75"/>
<circle cx="449.50" cy="315.90" r="2.3" fill="none" stroke="#5a5aff" stroke-width="0.75"/>
<circle cx="459.10" cy="316.70" r="2.3" fill="none" stroke="#5a5aff" stroke-width="0.75"/>
<circle cx="468.70" cy="315.40" r="2.3" fill="none" stroke="#5a5aff" stroke-width="0.75"/>
<circle cx="477.30" cy="310.60" r="2.3" fill="none" stroke="#5a5aff" stroke-width="0.75"/>
<path d="M363.80 295.10 V328.10 M362.90 295.10 h1.80 M362.90 328.10 h1.80" stroke="#444" stroke-width="0.75" fill="none"/>
<path d="M372.40 284.30 V316.30 M371.50 284.30 h1.80 M371.50 316.30 h1.80" stroke="#444" stroke-width="0.75" fill="none"/>
<path d="M395.90 288.00 V322.00 M395.00 288.00 h1.80 M395.00 322.00 h1.80" stroke="#444" stroke-width="0.75" fill="none"/>
<rect x="361.10" y="308.90" width="5.4" height="5.4" fill="#000"/>
<rect x="369.70" y="297.60" width="5.4" height="5.4" fill="#000"/>
<rect x="393.20" y="302.30" width="5.4" height="5.4" fill="#000"/>
<polygon points="430.80,309.70 434.70,312.53 433.21,317.12 428.39,317.12 426.90,312.53" fill="#00a000"/>
<path d="M110.40 71.40 V105.70 M109.50 71.40 h1.80 M109.50 105.70 h1.80" stroke="#e82020" stroke-width="0.75" fill="none"/>
<path d="M119.60 120.50 V153.00 M118.70 120.50 h1.80 M118.70 153.00 h1.80" stroke="#e82020" stroke-width="0.75" fill="none"/>
<path d="M129.60 155.00 V190.00 M128.70 155.00 h1.80 M128.70 190.00 h1.80" stroke="#e82020" stroke-width="0.75" fill="none"/>
<path d="M144.10 154.00 V187.00 M143.20 154.00 h1.80 M143.20 187.00 h1.80" stroke="#e82020" stroke-width="0.75" fill="none"/>
<path d="M163.30 133.70 V165.70 M162.40 133.70 h1.80 M162.40 165.70 h1.80" stroke="#e82020" stroke-width="0.75" fill="none"/>
<polygon points="110.40,85.80 107.10,91.50 113.70,91.50" fill="#f01010"/>
<polygon points="119.60,134.50 116.30,140.20 122.90,140.20" fill="#f01010"/>
<polygon points="129.60,169.10 126.30,174.80 132.90,174.80" fill="#f01010"/>
<polygon points="144.10,167.40 140.80,173.10 147.40,173.10" fill="#f01010"/>
<polygon points="163.30,146.80 160.00,152.50 166.60,152.50" fill="#f01010"/>
<path d="M171.60 131.40 V164.50 M170.70 131.40 h1.80 M170.70 164.50 h1.80" stroke="#333" stroke-width="0.75" fill="none"/>
<path d="M200.50 146.00 V179.10 M199.60 146.00 h1.80 M199.60 179.10 h1.80" stroke="#333" stroke-width="0.75" fill="none"/>
<rect x="168.70" y="145.20" width="5.8" height="5.8" fill="#fff" fill-opacity="0.6" stroke="#000" stroke-width="1.45"/>
<rect x="197.60" y="159.60" width="5.8" height="5.8" fill="#fff" fill-opacity="0.6" stroke="#000" stroke-width="1.45"/>
<polygon points="465.10,341.80 468.80,345.50 465.10,349.20 461.40,345.50" fill="#ff7f00"/>
<polygon points="472.80,341.80 476.50,345.50 472.80,349.20 469.10,345.50" fill="#ff7f00"/>
<polygon points="485.20,337.40 488.20,340.40 485.20,343.40 482.20,340.40" fill="none" stroke="#ff7f00" stroke-width="1.4"/>
<polygon points="488.30,348.30 491.30,351.30 488.30,354.30 485.30,351.30" fill="none" stroke="#ff7f00" stroke-width="1.4"/>
<path d="M490.50 318.10 V368.50 M489.60 318.10 h1.80 M489.60 368.50 h1.80" stroke="#333" stroke-width="0.75" fill="none"/>
<path d="M494.20 321.70 V365.80 M493.30 321.70 h1.80 M493.30 365.80 h1.80" stroke="#333" stroke-width="0.75" fill="none"/>
<path d="M498.70 323.00 V371.60 M497.80 323.00 h1.80 M497.80 371.60 h1.80" stroke="#333" stroke-width="0.75" fill="none"/>
<path d="M503.20 325.80 V371.60 M502.30 325.80 h1.80 M502.30 371.60 h1.80" stroke="#333" stroke-width="0.75" fill="none"/>
<path d="M507.60 323.00 V373.40 M506.70 323.00 h1.80 M506.70 373.40 h1.80" stroke="#333" stroke-width="0.75" fill="none"/>
<path d="M512.20 317.20 V362.60 M511.30 317.20 h1.80 M511.30 362.60 h1.80" stroke="#333" stroke-width="0.75" fill="none"/>
<path d="M516.70 315.40 V363.10 M515.80 315.40 h1.80 M515.80 363.10 h1.80" stroke="#333" stroke-width="0.75" fill="none"/>
<path d="M521.60 322.60 V372.60 M520.70 322.60 h1.80 M520.70 372.60 h1.80" stroke="#333" stroke-width="0.75" fill="none"/>
<polygon points="490.50,335.90 487.00,342.50 494.00,342.50" fill="#fff" fill-opacity="0.55" stroke="#000" stroke-width="1.25" stroke-linejoin="miter"/>
<polygon points="494.20,339.50 490.70,346.10 497.70,346.10" fill="#fff" fill-opacity="0.55" stroke="#000" stroke-width="1.25" stroke-linejoin="miter"/>
<polygon points="498.70,342.20 495.20,348.80 502.20,348.80" fill="#fff" fill-opacity="0.55" stroke="#000" stroke-width="1.25" stroke-linejoin="miter"/>
<polygon points="503.20,341.80 499.70,348.40 506.70,348.40" fill="#fff" fill-opacity="0.55" stroke="#000" stroke-width="1.25" stroke-linejoin="miter"/>
<polygon points="507.60,342.20 504.10,348.80 511.10,348.80" fill="#fff" fill-opacity="0.55" stroke="#000" stroke-width="1.25" stroke-linejoin="miter"/>
<polygon points="512.20,335.90 508.70,342.50 515.70,342.50" fill="#fff" fill-opacity="0.55" stroke="#000" stroke-width="1.25" stroke-linejoin="miter"/>
<polygon points="516.70,332.40 513.20,339.00 520.20,339.00" fill="#fff" fill-opacity="0.55" stroke="#000" stroke-width="1.25" stroke-linejoin="miter"/>
<polygon points="521.60,341.80 518.10,348.40 525.10,348.40" fill="#fff" fill-opacity="0.55" stroke="#000" stroke-width="1.25" stroke-linejoin="miter"/>
</g>
<rect x="37.40" y="8.05" width="733.90" height="367.65" fill="none" stroke="#111" stroke-width="1.4"/>
<path d="M37.40 375.70 v-2.60 M37.40 8.05 v2.60 M76.03 375.70 v-1.50 M76.03 8.05 v1.50 M114.66 375.70 v-1.50 M114.66 8.05 v1.50 M153.29 375.70 v-1.50 M153.29 8.05 v1.50 M191.92 375.70 v-1.50 M191.92 8.05 v1.50 M230.55 375.70 v-2.60 M230.55 8.05 v2.60 M269.18 375.70 v-1.50 M269.18 8.05 v1.50 M307.81 375.70 v-1.50 M307.81 8.05 v1.50 M346.44 375.70 v-1.50 M346.44 8.05 v1.50 M385.07 375.70 v-1.50 M385.07 8.05 v1.50 M423.70 375.70 v-2.60 M423.70 8.05 v2.60 M462.33 375.70 v-1.50 M462.33 8.05 v1.50 M500.96 375.70 v-1.50 M500.96 8.05 v1.50 M539.59 375.70 v-1.50 M539.59 8.05 v1.50 M578.22 375.70 v-1.50 M578.22 8.05 v1.50 M616.85 375.70 v-2.60 M616.85 8.05 v2.60 M655.48 375.70 v-1.50 M655.48 8.05 v1.50 M694.11 375.70 v-1.50 M694.11 8.05 v1.50 M732.74 375.70 v-1.50 M732.74 8.05 v1.50 M771.37 375.70 v-1.50 M771.37 8.05 v1.50 M37.40 377.05 h2.60 M771.30 377.05 h-2.60 M37.40 364.75 h1.50 M771.30 364.75 h-1.50 M37.40 352.45 h1.50 M771.30 352.45 h-1.50 M37.40 340.15 h1.50 M771.30 340.15 h-1.50 M37.40 327.85 h1.50 M771.30 327.85 h-1.50 M37.40 315.55 h2.60 M771.30 315.55 h-2.60 M37.40 303.25 h1.50 M771.30 303.25 h-1.50 M37.40 290.95 h1.50 M771.30 290.95 h-1.50 M37.40 278.65 h1.50 M771.30 278.65 h-1.50 M37.40 266.35 h1.50 M771.30 266.35 h-1.50 M37.40 254.05 h2.60 M771.30 254.05 h-2.60 M37.40 241.75 h1.50 M771.30 241.75 h-1.50 M37.40 229.45 h1.50 M771.30 229.45 h-1.50 M37.40 217.15 h1.50 M771.30 217.15 h-1.50 M37.40 204.85 h1.50 M771.30 204.85 h-1.50 M37.40 192.55 h2.60 M771.30 192.55 h-2.60 M37.40 180.25 h1.50 M771.30 180.25 h-1.50 M37.40 167.95 h1.50 M771.30 167.95 h-1.50 M37.40 155.65 h1.50 M771.30 155.65 h-1.50 M37.40 143.35 h1.50 M771.30 143.35 h-1.50 M37.40 131.05 h2.60 M771.30 131.05 h-2.60 M37.40 118.75 h1.50 M771.30 118.75 h-1.50 M37.40 106.45 h1.50 M771.30 106.45 h-1.50 M37.40 94.15 h1.50 M771.30 94.15 h-1.50 M37.40 81.85 h1.50 M771.30 81.85 h-1.50 M37.40 69.55 h2.60 M771.30 69.55 h-2.60 M37.40 57.25 h1.50 M771.30 57.25 h-1.50 M37.40 44.95 h1.50 M771.30 44.95 h-1.50 M37.40 32.65 h1.50 M771.30 32.65 h-1.50 M37.40 20.35 h1.50 M771.30 20.35 h-1.50 M37.40 8.05 h2.60 M771.30 8.05 h-2.60" stroke="#111" stroke-width="1.05" fill="none"/>
<g font-family="Liberation Sans, sans-serif" font-weight="bold" font-size="15.5" fill="#000">
<text transform="translate(35.30,320.55) scale(1,1.055)" text-anchor="end">5</text>
<path transform="translate(18.06,259.05) scale(0.00757,-0.00798)" d="M478 0V1170L140 959V1180L493 1409H759V0Z" fill="#000"/><text transform="translate(26.68,259.05) scale(1,1.055)" >0</text>
<path transform="translate(18.06,197.55) scale(0.00757,-0.00798)" d="M478 0V1170L140 959V1180L493 1409H759V0Z" fill="#000"/><text transform="translate(26.68,197.55) scale(1,1.055)" >5</text>
<text transform="translate(35.30,136.05) scale(1,1.055)" text-anchor="end">20</text>
<text transform="translate(35.30,74.55) scale(1,1.055)" text-anchor="end">25</text>
<text transform="translate(35.30,13.05) scale(1,1.055)" text-anchor="end">30</text>
<rect x="21.80" y="384.55" width="8.9" height="1.65" fill="#000"/>
<path transform="translate(32.05,390.00) scale(0.00757,-0.00798)" d="M478 0V1170L140 959V1180L493 1409H759V0Z" fill="#000"/><text transform="translate(40.67,390.00) scale(1,1.055)" >.0</text>
<rect x="214.95" y="384.55" width="8.9" height="1.65" fill="#000"/>
<text transform="translate(246.75,390.00) scale(1,1.055)" text-anchor="end">0.5</text>
<text transform="translate(423.70,390.00) scale(1,1.055)" text-anchor="middle">0.0</text>
<text transform="translate(616.85,390.00) scale(1,1.055)" text-anchor="middle">0.5</text>
<text transform="translate(369.90,412.10) scale(1,1.020)" font-size="15.2">Log</text>
<path transform="translate(398.30,416.10) scale(0.00527,-0.00548)" d="M478 0V1170L140 959V1180L493 1409H759V0Z" fill="#000"/><text transform="translate(404.31,416.10) scale(1,1.040)" font-size="10.8">0</text>
<text transform="translate(413.7,411.9) scale(1.4,0.96)" font-family="Liberation Serif, serif" font-style="italic" font-weight="normal" font-size="15.5">σ</text>
<rect x="426.1" y="401.1" width="5.8" height="1.3" fill="#000"/>
<path transform="translate(433.30,404.50) scale(0.00488,-0.00503)" d="M478 0V1170L140 959V1180L493 1409H759V0Z" fill="#000"/>
<text transform="translate(12.2,204.7) rotate(-90) scale(1,1.05)" font-style="italic">c</text>
<text transform="translate(15.4,197.3) rotate(-90) scale(1.14,1.07)" font-size="10">200</text>
</g>
<g font-family="Liberation Sans, sans-serif" font-size="13.5" fill="#000">
<path d="M228.7 34.8 H253.8" stroke="#111" stroke-width="1.1"/>
<path d="M228.7 52.4 H252.5" stroke="#111" stroke-width="1.1" stroke-dasharray="2.7 1.0"/>
<text transform="translate(270.50,38.80) scale(1,1.080)" >P</text><path transform="translate(279.50,38.80) scale(0.00659,-0.00712)" d="M515 0V1237L197 1010V1180L530 1409H696V0Z" fill="#000"/><text transform="translate(287.01,38.80) scale(1,1.080)" >2, tested</text>
<text transform="translate(270.50,56.80) scale(1,1.080)" >P</text><path transform="translate(279.50,56.80) scale(0.00659,-0.00712)" d="M515 0V1237L197 1010V1180L530 1409H696V0Z" fill="#000"/><text transform="translate(287.01,56.80) scale(1,1.080)" >2, extrapolation</text>
<text transform="translate(493.60,38.45) scale(1,1.080)" >MultiDark</text>
<text transform="translate(493.60,56.45) scale(1,1.080)" >Bolshoi</text>
<text transform="translate(493.60,74.45) scale(1,1.080)" >Ishiyama+</text><path transform="translate(555.50,74.45) scale(0.00659,-0.00712)" d="M515 0V1237L197 1010V1180L530 1409H696V0Z" fill="#000"/><text transform="translate(563.01,74.45) scale(1,1.080)" >3</text>
<text transform="translate(493.60,92.45) scale(1,1.080)" >Moore+0</text><path transform="translate(547.26,92.45) scale(0.00659,-0.00712)" d="M515 0V1237L197 1010V1180L530 1409H696V0Z" fill="#000"/>
<text transform="translate(493.60,110.45) scale(1,1.080)" >Colín+04</text>
<text transform="translate(493.60,128.45) scale(1,1.080)" >VL−II</text>
<text transform="translate(493.60,146.45) scale(1,1.080)" >Ishiyama </text><path transform="translate(551.37,146.45) scale(0.00659,-0.00712)" d="M515 0V1237L197 1010V1180L530 1409H696V0Z" fill="#000"/><text transform="translate(558.88,146.45) scale(1,1.080)" >4</text>
<text transform="translate(493.60,164.45) scale(1,1.080)" >Anderhalden &amp; Diemand </text><path transform="translate(644.45,164.45) scale(0.00659,-0.00712)" d="M515 0V1237L197 1010V1180L530 1409H696V0Z" fill="#000"/><text transform="translate(651.95,164.45) scale(1,1.080)" >3</text>
<text transform="translate(493.60,182.45) scale(1,1.080)" >Diemand+05</text>
<circle cx="462.30" cy="34.40" r="3.3" fill="#800080"/>
<circle cx="462.30" cy="52.50" r="3.1" fill="none" stroke="#5a5aff" stroke-width="0.9"/>
<rect x="459.50" y="67.80" width="5.6" height="5.6" fill="#fff" stroke="#000" stroke-width="1.3"/>
<polygon points="462.40,85.30 466.01,87.93 464.63,92.17 460.17,92.17 458.79,87.93" fill="#00a000"/>
<rect x="459.10" y="103.10" width="6.6" height="6.8" fill="#000"/>
<polygon points="462.40,121.50 458.95,128.00 465.85,128.00" fill="#f01010"/>
<polygon points="462.30,139.80 459.45,145.10 465.15,145.10" fill="#fff" stroke="#000" stroke-width="1.25"/>
<polygon points="462.30,157.75 465.25,160.70 462.30,163.65 459.35,160.70" fill="#fff" stroke="#ff7f00" stroke-width="1.25"/>
<polygon points="462.30,175.30 465.70,178.70 462.30,182.10 458.90,178.70" fill="#ff7f00"/>
</g>
</svg>
</body></html>
